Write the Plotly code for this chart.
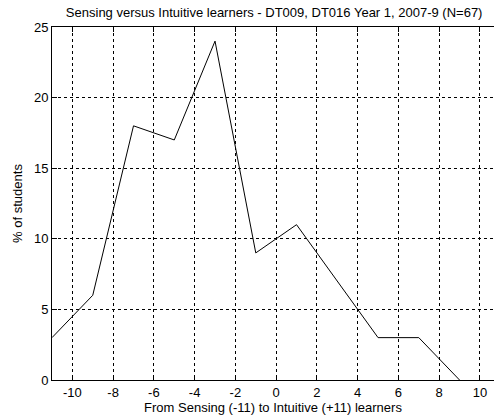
import plotly.graph_objects as go

x_scores = [-11, -9, -7, -5, -3, -1, 1, 3, 5, 7, 9]
pct_students = [3, 6, 18, 17, 24, 9, 11, 7, 3, 3, 0]
x_ticks = [-10, -8, -6, -4, -2, 0, 2, 4, 6, 8, 10]
x_tick_labels = ["-10", "-8", "-6", "-4", "-2", "0", "2", "4", "6", "8", "10"]
y_ticks = [0, 5, 10, 15, 20, 25]

fig = go.Figure()
fig.add_trace(go.Scatter(x=x_scores, y=pct_students, mode="lines",
                         line=dict(color="#000000", width=1), showlegend=False,
                         cliponaxis=False))

font = dict(family="Liberation Sans, Arial, sans-serif", size=13, color="#000000")
fig.update_layout(
    width=494, height=420,
    paper_bgcolor="white", plot_bgcolor="white",
    margin=dict(l=52, r=0, t=27, b=40, autoexpand=False),
    font=font,
    title=dict(text="Sensing versus Intuitive learners - DT009, DT016 Year 1, 2007-9 (N=67)",
               x=0.555, xanchor="center", y=1 - 12 / 420, yanchor="middle",
               font=dict(size=13)),
    xaxis=dict(range=[-11, 10.69], tickvals=x_ticks, ticktext=x_tick_labels,
               ticks="inside", ticklen=5, automargin=False,
               tickcolor="#000", showline=True, linecolor="#000", linewidth=1,
               mirror="ticks", showgrid=True, gridcolor="#000", gridwidth=1,
               griddash="3px,3px", zeroline=False,
               title=dict(text="From Sensing (-11) to Intuitive (+11) learners",
                          standoff=2, font=dict(size=13))),
    yaxis=dict(range=[0, 25], tickvals=y_ticks, ticks="inside", ticklen=5,
               automargin=False,
               tickcolor="#000", showline=True, linecolor="#000", linewidth=1,
               showgrid=True, gridcolor="#000", gridwidth=1, griddash="3px,3px",
               zeroline=False,
               title=dict(text="% of students", standoff=8, font=dict(size=13))),
)
fig.write_html("out.html", config={"displayModeBar": False},
               post_script="document.body.style.margin='0';document.body.style.overflow='hidden';")
